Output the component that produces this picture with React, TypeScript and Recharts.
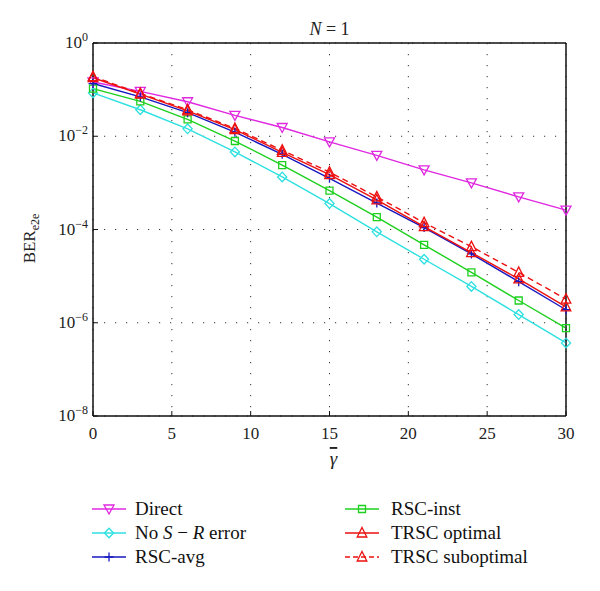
import React from 'react';
import { LineChart, Line, XAxis, YAxis, CartesianGrid, Legend, ReferenceArea } from 'recharts';

const gammaDb = [0, 3, 6, 9, 12, 15, 18, 21, 24, 27, 30];
const directBer = [0.146, 0.092, 0.055, 0.028, 0.0154, 0.0076, 0.0039, 0.0019, 0.001, 5e-4, 2.6e-4];
const noSrErrorBer = [0.085, 0.037, 0.0144, 0.0046, 0.00134, 3.6e-4, 8.9e-5, 2.3e-5, 6e-6, 1.5e-6, 3.7e-7];
const rscAvgBer = [0.135, 0.07, 0.032, 0.0122, 0.0041, 0.00125, 3.7e-4, 1.1e-4, 3e-5, 7.6e-6, 1.9e-6];
const rscInstBer = [0.105, 0.056, 0.023, 0.0079, 0.0024, 6.8e-4, 1.85e-4, 4.7e-5, 1.2e-5, 3e-6, 7.7e-7];
const trscOptBer = [0.18, 0.08, 0.035, 0.0139, 0.0045, 0.0015, 4.3e-4, 1.15e-4, 3.2e-5, 8.7e-6, 2.2e-6];
const trscSubBer = [0.19, 0.083, 0.037, 0.0147, 0.005, 0.0017, 5e-4, 1.4e-4, 4.3e-5, 1.2e-5, 3.2e-6];

const xTicks = [0, 5, 10, 15, 20, 25, 30];
const yTicks = [1e-8, 1e-6, 1e-4, 1e-2, 1];

const data = gammaDb.map((g, i) => ({
  g,
  direct: directBer[i],
  noErr: noSrErrorBer[i],
  avg: rscAvgBer[i],
  inst: rscInstBer[i],
  opt: trscOptBer[i],
  sub: trscSubBer[i],
}));

const FONT = 'Liberation Serif, serif';
const C_MAG = '#e028e0';
const C_CYAN = '#2ee0e0';
const C_GREEN = '#1ed01e';
const C_BLUE = '#1818c0';
const C_RED = '#ec1010';

type MarkerKind = 'down' | 'diamond' | 'plus' | 'square' | 'up';

function markerPath(kind: MarkerKind, cx: number, cy: number): string {
  switch (kind) {
    case 'down': {
      const s = 5;
      return `M${cx - s},${cy - 4} L${cx + s},${cy - 4} L${cx},${cy + 5} Z`;
    }
    case 'up': {
      const s = 4.8;
      return `M${cx - s},${cy + 4} L${cx + s},${cy + 4} L${cx},${cy - 5.5} Z`;
    }
    case 'diamond': {
      const s = 4.8;
      return `M${cx},${cy - s} L${cx + s * 0.95},${cy} L${cx},${cy + s} L${cx - s * 0.95},${cy} Z`;
    }
    case 'square': {
      const s = 3.5;
      return `M${cx - s},${cy - s} L${cx + s},${cy - s} L${cx + s},${cy + s} L${cx - s},${cy + s} Z`;
    }
    case 'plus': {
      const s = 4.5;
      return `M${cx - s},${cy} L${cx + s},${cy} M${cx},${cy - s} L${cx},${cy + s}`;
    }
  }
}

const makeDot = (kind: MarkerKind, color: string) => (props: any) => {
  const { cx, cy, index } = props;
  if (cx == null || cy == null) return <g key={`d-${kind}-${index}`} />;
  return (
    <path
      key={`d-${kind}-${index}`}
      d={markerPath(kind, cx, cy)}
      fill="none"
      stroke={color}
      strokeWidth={1.3}
    />
  );
};

const seriesDefs = [
  { key: 'direct', color: C_MAG, marker: 'down' as MarkerKind, dash: undefined as string | undefined },
  { key: 'noErr', color: C_CYAN, marker: 'diamond' as MarkerKind, dash: undefined },
  { key: 'inst', color: C_GREEN, marker: 'square' as MarkerKind, dash: undefined },
  { key: 'avg', color: C_BLUE, marker: 'plus' as MarkerKind, dash: undefined },
  { key: 'opt', color: C_RED, marker: 'up' as MarkerKind, dash: undefined },
  { key: 'sub', color: C_RED, marker: 'up' as MarkerKind, dash: '6 4' },
];

const legendItems = [
  { label: <>Direct</>, color: C_MAG, marker: 'down' as MarkerKind, dash: undefined as string | undefined, col: 0, row: 0 },
  { label: <>No <i>S</i> − <i>R</i> error</>, color: C_CYAN, marker: 'diamond' as MarkerKind, dash: undefined, col: 0, row: 1 },
  { label: <>RSC-avg</>, color: C_BLUE, marker: 'plus' as MarkerKind, dash: undefined, col: 0, row: 2 },
  { label: <>RSC-inst</>, color: C_GREEN, marker: 'square' as MarkerKind, dash: undefined, col: 1, row: 0 },
  { label: <>TRSC optimal</>, color: C_RED, marker: 'up' as MarkerKind, dash: undefined, col: 1, row: 1 },
  { label: <>TRSC suboptimal</>, color: C_RED, marker: 'up' as MarkerKind, dash: '5 3', col: 1, row: 2 },
];

const LegendBox = () => (
  <div style={{ position: 'relative', width: 600, height: 75, fontFamily: FONT, fontSize: 19, color: '#111' }}>
    {legendItems.map((it, i) => (
      <div
        key={i}
        style={{
          position: 'absolute',
          left: it.col === 0 ? 92 : 345,
          top: it.row * 24,
          height: 24,
          display: 'flex',
          alignItems: 'center',
          whiteSpace: 'nowrap',
          fontFamily: FONT,
        }}
      >
        <svg width={34} height={24} style={{ display: 'block' }}>
          <line x1={0} y1={12} x2={34} y2={12} stroke={it.color} strokeWidth={1.3} strokeDasharray={it.dash} />
          <path d={markerPath(it.marker, 17, 12)} fill="none" stroke={it.color} strokeWidth={1.3} />
        </svg>
        <span style={{ marginLeft: it.col === 0 ? 9 : 12, lineHeight: '24px', fontFamily: FONT }}>{it.label}</span>
      </div>
    ))}
  </div>
);

const YTick = (props: any) => {
  const { x, y, payload } = props;
  const exp = Math.round(Math.log10(payload.value));
  return (
    <text x={x} y={y + 5} textAnchor="end" style={{ fontFamily: FONT }} fontSize={17} fill="#222">
      <tspan>10</tspan>
      <tspan dy={-7} fontSize={12}>{exp === 0 ? '0' : `−${-exp}`}</tspan>
    </text>
  );
};

const XTick = (props: any) => {
  const { x, y, payload } = props;
  return (
    <text x={x} y={y + 20} textAnchor="middle" style={{ fontFamily: FONT }} fontSize={17} fill="#222">
      {payload.value}
    </text>
  );
};

const YLabel = (props: any) => {
  const vb = props.viewBox || {};
  const cy = (vb.y ?? 0) + (vb.height ?? 0) / 2 + 9;
  const cx = 35;
  return (
    <text x={cx} y={cy} transform={`rotate(-90, ${cx}, ${cy})`} textAnchor="middle" style={{ fontFamily: FONT }} fontSize={17} fill="#222">
      <tspan>BER</tspan>
      <tspan dy={4} fontSize={12}>e2e</tspan>
    </text>
  );
};

const XLabel = (props: any) => {
  const vb = props.viewBox || {};
  const cx = (vb.x ?? 0) + (vb.width ?? 0) / 2 + 4;
  return (
    <text x={cx} y={465} textAnchor="middle" fontSize={19} fontStyle="italic" fill="#222" style={{ fontFamily: FONT, textDecoration: 'overline' }}>
      γ
    </text>
  );
};

const TitleLabel = (props: any) => {
  const vb = props.viewBox || {};
  const cx = (vb.x ?? 0) + (vb.width ?? 0) / 2;
  return (
    <text x={cx} y={35} textAnchor="middle" fontSize={18} fill="#222" style={{ fontFamily: FONT, whiteSpace: 'pre' }}>
      <tspan fontStyle="italic">N</tspan>
      <tspan> = 1</tspan>
    </text>
  );
};

export default function App() {
  return (
    <div style={{ position: 'absolute', left: 0, top: 0, width: 600, height: 591, background: '#fff' }}>
      <LineChart width={600} height={591} data={data} margin={{ top: 42, right: 33, left: 0, bottom: 145 }}>
        <CartesianGrid stroke="#333" strokeDasharray="1.2 9.8" strokeWidth={1} />
        <XAxis
          dataKey="g"
          type="number"
          domain={[0, 30]}
          ticks={xTicks}
          height={30}
          tickSize={-5}
          tickMargin={8}
          tick={<XTick />}
          stroke="#111"
          axisLine={true}
          tickLine={true}
          label={{ content: <XLabel /> }}
        />
        <XAxis
          xAxisId="top"
          orientation="top"
          dataKey="g"
          type="number"
          domain={[0, 30]}
          ticks={xTicks}
          height={1}
          tickSize={-5}
          tick={false}
          stroke="#111"
          axisLine={true}
          tickLine={true}
          label={{ content: <TitleLabel /> }}
        />
        <YAxis
          type="number"
          scale="log"
          domain={[1e-8, 1]}
          ticks={yTicks}
          width={93}
          tickSize={-5}
          tickMargin={10}
          tick={<YTick />}
          stroke="#111"
          axisLine={true}
          tickLine={true}
          label={{ content: <YLabel /> }}
          allowDataOverflow
        />
        <YAxis
          yAxisId="right"
          orientation="right"
          type="number"
          scale="log"
          domain={[1e-8, 1]}
          ticks={yTicks}
          width={1}
          tickSize={-5}
          tick={false}
          stroke="#111"
          axisLine={true}
          tickLine={true}
          allowDataOverflow
        />
        <ReferenceArea
          x1={0}
          x2={30}
          y1={1e-8}
          y2={1}
          fill="none"
          fillOpacity={0}
          stroke="#111"
          strokeWidth={1}
          ifOverflow="visible"
        />
        {seriesDefs.map((s) => (
          <Line
            key={s.key}
            dataKey={s.key}
            stroke={s.color}
            strokeWidth={1.4}
            strokeDasharray={s.dash}
            dot={makeDot(s.marker, s.color)}
            activeDot={false}
            isAnimationActive={false}
            type="linear"
          />
        ))}
        <Legend
          verticalAlign="middle"
          align="center"
          layout="horizontal"
          wrapperStyle={{ top: 497, left: 0, width: 600, height: 75 }}
          content={() => <LegendBox />}
        />
      </LineChart>
    </div>
  );
}
